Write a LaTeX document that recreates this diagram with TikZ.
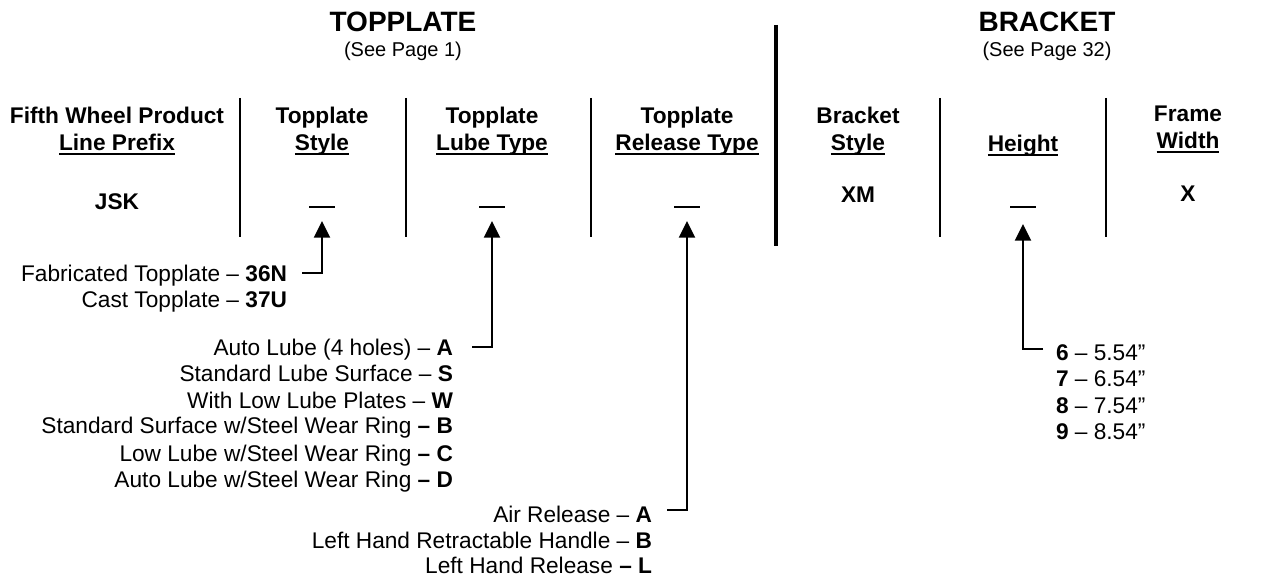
\documentclass[tikz,border=0pt]{standalone}
\usepackage{fontspec}
\setmainfont{Liberation Sans}
\usetikzlibrary{arrows.meta}
\newcommand{\ulx}[1]{\setbox0\hbox{#1}\rlap{\rule[-3pt]{\wd0}{1.4pt}}\box0}
\begin{document}
\begin{tikzpicture}[x=0.75pt,y=-0.75pt,
  every node/.style={inner sep=0pt,outer sep=0pt},
  big/.style={font=\fontsize{21}{24}\selectfont\bfseries,anchor=base},
  sub/.style={font=\fontsize{15}{18}\selectfont,anchor=base},
  hdr/.style={font=\fontsize{17}{20}\selectfont\bfseries,anchor=base},
  val/.style={font=\fontsize{17}{20}\selectfont\bfseries,anchor=base},
  item/.style={font=\fontsize{17}{20}\selectfont,anchor=base east},
  hitem/.style={font=\fontsize{17}{20}\selectfont,anchor=base west},
  blank/.style={fill=black,minimum width=19.5pt,minimum height=1.5pt},
  divline/.style={line width=1.5pt},
  thickdiv/.style={line width=3pt},
  conn/.style={line width=1.5pt,-{Triangle[length=12.5pt,width=12pt]}}]
\useasboundingbox[fill=white] (0,0) rectangle (1261,577);

% section titles
\node[big] (tp) at (403,32) {TOPPLATE};
\node[sub] (tpsee) at (403,57) {(See Page 1)};
\node[big] (br) at (1047,32) {BRACKET};
\node[sub] (brsee) at (1047,57) {(See Page 32)};

% column headers
\node[hdr] (h1a) at (117,124) {Fifth Wheel Product};
\node[hdr] (h1b) at (117,151) {\ulx{Line Prefix}};
\node[hdr] (h2a) at (322,124) {Topplate};
\node[hdr] (h2b) at (322,151) {\ulx{Style}};
\node[hdr] (h3a) at (492,124) {Topplate};
\node[hdr] (h3b) at (492,151) {\ulx{Lube Type}};
\node[hdr] (h4a) at (687,124) {Topplate};
\node[hdr] (h4b) at (687,151) {\ulx{Release Type}};
\node[hdr] (h5a) at (858,124) {Bracket};
\node[hdr] (h5b) at (858,151) {\ulx{Style}};
\node[hdr] (h6b) at (1023,152) {\ulx{Height}};
\node[hdr] (h7a) at (1188,122) {Frame};
\node[hdr] (h7b) at (1188,149) {\ulx{Width}};

% values
\node[val] (v1) at (117,210) {JSK};
\node[blank] (sdash) at (322,207) {};
\node[blank] (ldash) at (492,207) {};
\node[blank] (rdash) at (687,207) {};
\node[val] (v5) at (858,203) {XM};
\node[blank] (hdash) at (1023,207) {};
\node[val] (v7) at (1188,202) {X};

% dividers
\draw[divline] (240,98) -- (240,237);
\draw[divline] (406,98) -- (406,237);
\draw[divline] (591,98) -- (591,237);
\draw[thickdiv] (776,25) -- (776,246);
\draw[divline] (940,98) -- (940,237);
\draw[divline] (1106,98) -- (1106,237);

% topplate style list
\node[item] (fab) at (287,282) {Fabricated Topplate -- \textbf{36N}};
\node[item] (cast) at (287,308) {Cast Topplate -- \textbf{37U}};

% lube list
\node[item] (la) at (453,356) {Auto Lube (4 holes) -- \textbf{A}};
\node[item] (ls) at (453,382) {Standard Lube Surface -- \textbf{S}};
\node[item] (lw) at (453,408) {With Low Lube Plates -- \textbf{W}};
\node[item] (lb) at (453,434) {Standard Surface w/Steel Wear Ring \textbf{-- B}};
\node[item] (lc) at (453,461) {Low Lube w/Steel Wear Ring \textbf{-- C}};
\node[item] (ld) at (453,487) {Auto Lube w/Steel Wear Ring \textbf{-- D}};

% release list
\node[item] (ra) at (652,522) {Air Release -- \textbf{A}};
\node[item] (rb) at (652,548) {Left Hand Retractable Handle -- \textbf{B}};
\node[item] (rl) at (652,573) {Left Hand Release \textbf{-- L}};

% height list
\node[hitem] (h6) at (1056,361) {\textbf{6} -- 5.54”};
\node[hitem] (h7) at (1056,387) {\textbf{7} -- 6.54”};
\node[hitem] (h8) at (1056,413) {\textbf{8} -- 7.54”};
\node[hitem] (h9) at (1056,440) {\textbf{9} -- 8.54”};

% connectors
\draw[conn] ([xshift=11.25pt,yshift=6.75pt]fab.base east) -| ([yshift=-10.5pt]sdash.center);
\draw[conn] ([xshift=14.25pt,yshift=6.75pt]la.base east) -| ([yshift=-10.5pt]ldash.center);
\draw[conn] ([xshift=11.25pt,yshift=9pt]ra.base east) -| ([yshift=-10.5pt]rdash.center);
\draw[conn] ([xshift=-9.75pt,yshift=9pt]h6.base west) -| ([yshift=-12.75pt]hdash.center);
\end{tikzpicture}
\end{document}
